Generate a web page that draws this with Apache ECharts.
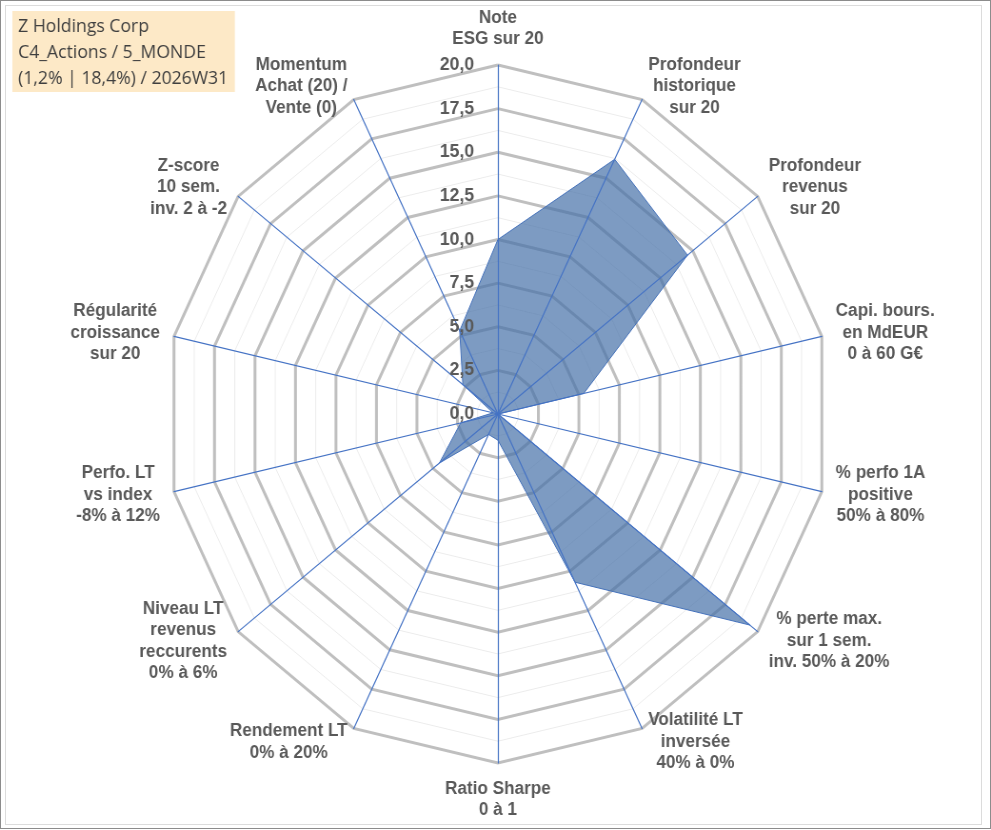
<!DOCTYPE html>
<html>
<head>
<meta charset="utf-8">
<script src="https://cdn.jsdelivr.net/npm/echarts@6/dist/echarts.min.js"></script>
<style>
  html, body { margin: 0; padding: 0; background: #fff; }
  #frame { position: absolute; left: 0; top: 0; width: 989px; height: 827px; border: 1px solid #8c8c8c; }
  #inner { position: absolute; left: 5px; top: 5px; width: 975px; height: 818px; border: 1px solid #dcdcdc; }
  /* the source picture is squeezed horizontally, so is the chart */
  #chart { position: absolute; left: 0; top: 0; width: 1041px; height: 830px;
           transform: scaleX(0.952); transform-origin: 0 0; }
</style>
</head>
<body>
<div id="frame"></div>
<div id="inner"></div>
<div id="chart"></div>
<script>
// axes, clockwise from the top
const axisNames = [
  "Note\nESG sur 20",
  "Profondeur\nhistorique\nsur 20",
  "Profondeur\nrevenus\nsur 20",
  "Capi. bours.\nen MdEUR\n0 à 60 G€",
  "% perfo 1A\npositive\n50% à 80%",
  "% perte max.\nsur 1 sem.\ninv. 50% à 20%",
  "Volatilité LT\ninversée\n40% à 0%",
  "Ratio Sharpe\n0 à 1",
  "Rendement LT\n0% à 20%",
  "Niveau LT\nrevenus\nreccurents\n0% à 6%",
  "Perfo. LT\nvs index\n-8% à 12%",
  "Régularité\ncroissance\nsur 20",
  "Z-score\n10 sem.\ninv. 2 à -2",
  "Momentum\nAchat (20) /\nVente (0)"
];

// scores on 20, same order
const scores = [10.0, 16.2, 14.6, 5.3, 0.0, 19.4, 10.7, 1.5, 1.3, 4.5, 2.3, 0.3, 2.7, 5.3];

const scoreMin = 0;
const scoreMax = 20;
const majorSplits = 8;   // 2,5 steps
const minorSplits = 16;  // 1,25 steps

const titleLines = ["Z Holdings Corp", "C4_Actions / 5_MONDE", "(1,2% | 18,4%) / 2026W31"];

// echarts lays radar axes counter-clockwise, so flip the order after the first one
const order = [0].concat(axisNames.map((_, i) => i).slice(1).reverse());
const names = order.map(i => axisNames[i]);
const values = order.map(i => scores[i]);

const center = [523, 414];
const radius = 349;
const textGrey = "#595959";

const ringRadar = (splits, color, width) => ({
  center: center,
  radius: radius,
  startAngle: 90,
  shape: "polygon",
  splitNumber: splits,
  indicator: names.map(() => ({ name: "", min: scoreMin, max: scoreMax })),
  axisName: { show: false },
  axisLine: { show: false },
  axisTick: { show: false },
  axisLabel: { show: false },
  splitArea: { show: false },
  splitLine: { lineStyle: { color: color, width: width } }
});

const chart = echarts.init(document.getElementById("chart"));

chart.setOption({
  animation: false,
  title: {
    text: titleLines.join("\n"),
    left: 13,
    top: 11,
    padding: [3, 7, 0, 6],
    backgroundColor: "#fde9c7",
    textStyle: {
      fontFamily: "Open Sans",
      fontWeight: "normal",
      fontSize: 18.5,
      lineHeight: 26,
      color: "#3f3f3f"
    }
  },
  radar: [
    ringRadar(minorSplits, "#ececec", 1),
    ringRadar(majorSplits, "#bfbfbf", 3),
    {
      center: center,
      radius: radius,
      startAngle: 90,
      shape: "polygon",
      splitNumber: majorSplits,
      z: 3,
      nameGap: 15,
      indicator: names.map((n, i) => ({
        name: n, min: scoreMin, max: scoreMax,
        axisLabel: { show: i === 0 }
      })),
      axisName: {
        formatter: n => n.split("\n").map(s => "{c|" + s + "}").join("\n"),
        rich: {
          c: {
            align: "center",
            fontFamily: "Liberation Sans",
            fontWeight: "bold",
            fontSize: 18,
            lineHeight: 21.5,
            color: textGrey
          }
        }
      },
      axisLine: { lineStyle: { color: "#4472C4", width: 1.2 } },
      axisTick: { show: false },
      axisLabel: {
        show: false,
        margin: 25,
        fontFamily: "Liberation Sans",
        fontWeight: "bold",
        fontSize: 18.5,
        color: textGrey,
        formatter: v => v.toFixed(1).replace(".", ",")
      },
      splitLine: { show: false },
      splitArea: { show: false }
    }
  ],
  series: [{
    type: "radar",
    radarIndex: 2,
    symbol: "none",
    silent: true,
    lineStyle: { color: "#4472C4", width: 1 },
    areaStyle: { color: "rgb(70,112,168)", opacity: 0.7 },
    data: [{ value: values, name: titleLines[0] }]
  }]
});
</script>
</body>
</html>
